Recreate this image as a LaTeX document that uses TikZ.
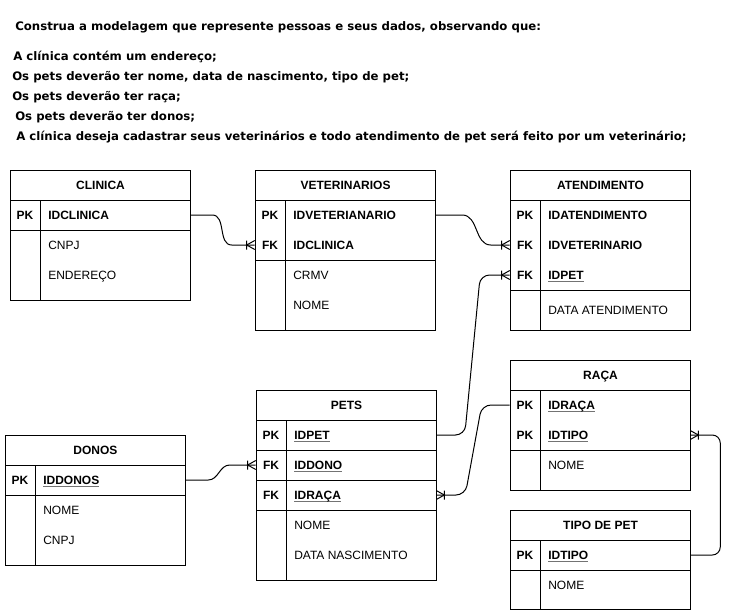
\documentclass[tikz,border=0pt]{standalone}
\usepackage{fontspec}
\setmainfont{Liberation Sans}
\newfontfamily\stmt{DejaVu Sans}
\usetikzlibrary{calc}
\newcommand\fs{\fontsize{9}{11}\selectfont}
\newcommand\ulf[1]{\setbox0\hbox{#1}\rlap{\color{black!55}\rule[-1.7pt]{\wd0}{0.55pt}}\box0}
\tikzset{
  tl/.style={line width=0.75pt},
  hdr/.style={draw, line width=0.75pt, anchor=north west, inner sep=0pt,
    minimum width=135pt, minimum height=22.5pt, font=\fs\bfseries,
    text height=6.4pt, text depth=0pt},
  rowbox/.style={inner sep=0pt, minimum width=135pt, minimum height=22.5pt},
  keytxt/.style={inner sep=0pt, font=\fs\bfseries, text height=6.4pt, text depth=0pt},
  fldkey/.style={inner sep=0pt, anchor=west, font=\fs\bfseries, text height=6.4pt, text depth=0pt},
  fldtxt/.style={inner sep=0pt, anchor=west, font=\fs, text height=6.4pt, text depth=0pt},
  ttl/.style={inner sep=0pt, anchor=west, font=\stmt\fontsize{8.8}{11}\selectfont\bfseries, text height=6.4pt, text depth=0pt},
  conn/.style={line width=0.75pt},
  crow/.pic={\draw[line width=0.75pt] (-8,-4.5) -- (-8,4.5) (0,-4.5) -- (-8,0) -- (0,4.5);}
}
% key row: name, x-left, y-center, key, field
\newcommand\krow[5]{%
  \node[rowbox] (#1) at (#2+90,#3) {};
  \node[keytxt] (#1k) at (#2+15,#3) {#4};
  \node[fldkey] (#1t) at (#2+38,#3) {#5};}
% plain row: name, x-left, y-center, field
\newcommand\nrow[4]{%
  \node[fldtxt] (#1) at (#2+38,#3) {#4};}
\begin{document}
\begin{tikzpicture}[x=0.75pt,y=-0.75pt]
\fill[white] (0,0) rectangle (730,611);
\useasboundingbox (0,0) rectangle (730,611);

% statement
\node[ttl] (t0) at (15,26) {Construa a modelagem que represente pessoas e seus dados, observando que:};
\node[ttl] (t1) at (13,56) {A clínica contém um endereço;};
\node[ttl] (t2) at (12,76) {Os pets deverão ter nome, data de nascimento, tipo de pet;};
\node[ttl] (t3) at (12,96) {Os pets deverão ter raça;};
\node[ttl] (t4) at (15,116) {Os pets deverão ter donos;};
\node[ttl] (t5) at (16,136) {A clínica deseja cadastrar seus veterinários e todo atendimento de pet será feito por um veterinário;};

% CLINICA
\node[hdr] (cli) at (10,170) {CLINICA};
\draw[tl] (10,200) rectangle (190,230) (10,230) rectangle (190,300) (40,200) -- (40,300);
\krow{cliPK}{10}{215}{PK}{IDCLINICA}
\nrow{cliA}{10}{245}{CNPJ}
\nrow{cliB}{10}{275}{ENDEREÇO}

% VETERINARIOS
\node[hdr] (vet) at (255,170) {VETERINARIOS};
\draw[tl] (255,200) rectangle (435,260) (255,260) rectangle (435,330) (285,200) -- (285,330);
\krow{vetPK}{255}{215}{PK}{IDVETERIANARIO}
\krow{vetFK}{255}{245}{FK}{IDCLINICA}
\nrow{vetA}{255}{275}{CRMV}
\nrow{vetB}{255}{305}{NOME}

% ATENDIMENTO
\node[hdr] (atd) at (510,170) {ATENDIMENTO};
\draw[tl] (510,200) rectangle (690,290) (510,290) rectangle (690,330) (540,200) -- (540,330);
\krow{atdPK}{510}{215}{PK}{IDATENDIMENTO}
\krow{atdFKa}{510}{245}{FK}{IDVETERINARIO}
\krow{atdFKb}{510}{275}{FK}{\ulf{IDPET}}
\nrow{atdA}{510}{310}{DATA ATENDIMENTO}

% PETS
\node[hdr] (pet) at (256,390) {PETS};
\draw[tl] (256,420) rectangle (436,450) (256,450) rectangle (436,480) (256,480) rectangle (436,510)
  (256,510) rectangle (436,580) (286,420) -- (286,580);
\krow{petPK}{256}{435}{PK}{\ulf{IDPET}}
\krow{petFKa}{256}{465}{FK}{\ulf{IDDONO}}
\krow{petFKb}{256}{495}{FK}{\ulf{IDRAÇA}}
\nrow{petA}{256}{525}{NOME}
\nrow{petB}{256}{555}{DATA NASCIMENTO}

% RACA
\node[hdr] (rac) at (510,360) {RAÇA};
\draw[tl] (510,390) rectangle (690,450) (510,450) rectangle (690,490) (540,390) -- (540,490);
\krow{racPKa}{510}{405}{PK}{\ulf{IDRAÇA}}
\krow{racPKb}{510}{435}{PK}{\ulf{IDTIPO}}
\nrow{racA}{510}{465}{NOME}

% TIPO DE PET
\node[hdr] (tip) at (510,510) {TIPO DE PET};
\draw[tl] (510,540) rectangle (690,570) (510,570) rectangle (690,609.5) (540,540) -- (540,609.5);
\krow{tipPK}{510}{555}{PK}{\ulf{IDTIPO}}
\nrow{tipA}{510}{585}{NOME}

% DONOS
\node[hdr] (don) at (5,435) {DONOS};
\draw[tl] (5,465) rectangle (185,495) (5,495) rectangle (185,565) (35,465) -- (35,565);
\krow{donPK}{5}{480}{PK}{\ulf{IDDONOS}}
\nrow{donA}{5}{510}{NOME}
\nrow{donB}{5}{540}{CNPJ}

% connectors
\draw[conn] (cliPK.east) -- ++(22,0) to[out=0,in=180] ($(vetFK.west)+(-23,0)$) -- (vetFK.west);
\pic at (vetFK.west) {crow};
\draw[conn] (vetPK.east) -- ++(27,0) to[out=0,in=180] ($(atdFKa.west)+(-19,0)$) -- (atdFKa.west);
\pic at (atdFKa.west) {crow};
\draw[conn, rounded corners=7pt] (petPK.east) -- ($(petPK.east)+(28.5,0)$) -- ($(atdFKb.west)+(-29.5,0)$) -- (atdFKb.west);
\pic at (atdFKb.west) {crow};
\draw[conn, rounded corners=7pt] (racPKa.west) -- ++(-28,0) -- ($(petFKb.east)+(29,0)$) -- (petFKb.east);
\pic[rotate=180] at (petFKb.east) {crow};
\draw[conn, rounded corners=6pt] (tipPK.east) -- ++(30,0) |- (racPKb.east);
\pic[rotate=180] at (racPKb.east) {crow};
\draw[conn] (donPK.east) -- ++(23,0) to[out=0,in=180] ($(petFKa.west)+(-26,0)$) -- (petFKa.west);
\pic at (petFKa.west) {crow};
\end{tikzpicture}
\end{document}
